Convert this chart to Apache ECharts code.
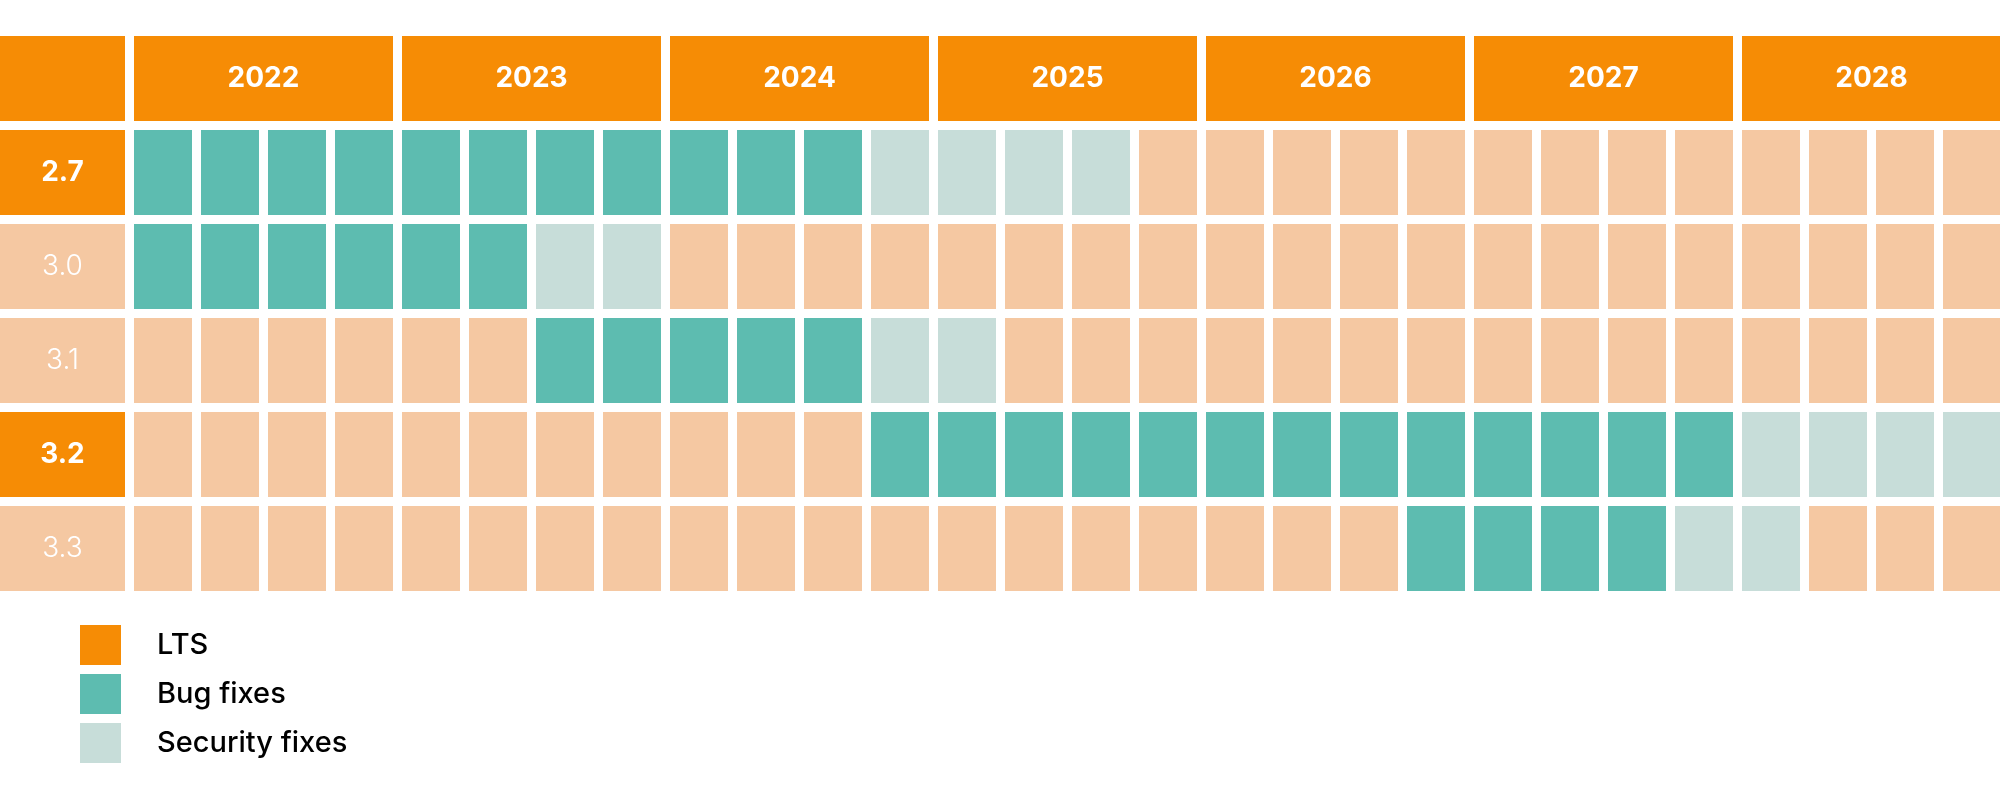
<!DOCTYPE html>
<html>
<head>
<meta charset="utf-8">
<script src="https://cdn.jsdelivr.net/npm/echarts@6/dist/echarts.min.js"></script>
<style>
html, body { margin: 0; padding: 0; background: #fff; }
#main { width: 2000px; height: 800px; }
</style>
</head>
<body>
<div id="main"></div>
<script>
// release years, each split in four quarters
var years = ['2022', '2023', '2024', '2025', '2026', '2027', '2028'];
var versions = ['2.7', '3.0', '3.1', '3.2', '3.3'];
var ltsVersions = ['2.7', '3.2'];

// support windows per version (quarter labels)
var bugStart = ['2022 Q1', '2022 Q1', '2023 Q3', '2024 Q4', '2026 Q4'];
var bugEnd = ['2024 Q3', '2023 Q2', '2024 Q3', '2027 Q4', '2027 Q3'];
var securityEnd = ['2025 Q3', '2023 Q4', '2025 Q1', '2028 Q4', '2028 Q1'];

var ORANGE = '#F68C05';
var TEAL = '#5DBCB0';
var LIGHT = '#C7DDD9';
var PEACH = '#F5C8A2';
var GAP = 9;
var FONT = 'Inter, "Noto Sans", sans-serif';

var quarters = [];
years.forEach(function (y) {
	['Q1', 'Q2', 'Q3', 'Q4'].forEach(function (q) { quarters.push(y + ' ' + q); });
});

// rows: 0 is the year header, versions follow
var rows = [''].concat(versions);

var bugData = [], securityData = [], otherData = [];
versions.forEach(function (v, i) {
	var b0 = quarters.indexOf(bugStart[i]);
	var b1 = quarters.indexOf(bugEnd[i]);
	var s1 = quarters.indexOf(securityEnd[i]);
	for (var q = 0; q < quarters.length; q++) {
		if (q >= b0 && q <= b1) bugData.push([q, i + 1]);
		else if (q > b1 && q <= s1) securityData.push([q, i + 1]);
		else otherData.push([q, i + 1]);
	}
});

var headerData = years.map(function (y, i) { return [i * 4, 0, y]; });

function cellItem(params, api) {
	var c = api.coord([api.value(0), api.value(1)]);
	var s = api.size([1, 1]);
	return {
		type: 'rect',
		shape: {
			x: c[0] - s[0] / 2 + GAP / 2,
			y: c[1] - s[1] / 2 + GAP / 2,
			width: s[0] - GAP,
			height: s[1] - GAP
		},
		style: api.style()
	};
}

function headerItem(params, api) {
	var c = api.coord([api.value(0), api.value(1)]);
	var s = api.size([1, 1]);
	return {
		type: 'rect',
		shape: {
			x: c[0] - s[0] / 2 + GAP / 2,
			y: c[1] - s[1] / 2 + GAP / 2,
			width: s[0] * 4 - GAP,
			height: s[1] - GAP
		},
		style: { fill: ORANGE },
		textContent: {
			style: {
				text: years[params.dataIndex],
				fill: '#fff',
				fontSize: 28,
				fontWeight: 'bold',
				fontFamily: FONT,
				padding: [5, 0, 0, 0]
			}
		},
		textConfig: { position: 'inside' }
	};
}

var dom = document.getElementById('main');
var myChart = echarts.init(dom);

var option = {
	animation: false,
	grid: {
		left: 129.5,
		top: 31.5,
		width: 1876,
		height: 564,
		outerBoundsMode: 'none'
	},
	legend: {
		orient: 'vertical',
		left: 80,
		top: 625,
		padding: 0,
		itemWidth: 41,
		itemHeight: 40,
		itemGap: 9,
		icon: 'rect',
		selectedMode: false,
		data: ['LTS', 'Bug fixes', 'Security fixes'],
		textStyle: {
			color: '#000',
			fontSize: 29,
			fontWeight: 500,
			fontFamily: FONT,
			padding: [8, 0, 0, 31]
		}
	},
	xAxis: {
		type: 'category',
		data: quarters,
		show: false
	},
	yAxis: {
		type: 'category',
		data: rows,
		inverse: true,
		axisLine: { show: false },
		axisTick: { show: false },
		splitLine: { show: false },
		axisLabel: {
			margin: 4.5,
			formatter: function (v) {
				if (v === '') return '{corner| }';
				return ltsVersions.indexOf(v) >= 0 ? '{lts|' + v + '}' : '{std|' + v + '}';
			},
			rich: {
				corner: { width: 125, height: 85, backgroundColor: ORANGE },
				lts: {
					width: 125, height: 85, lineHeight: 85, align: 'center',
					backgroundColor: ORANGE, color: '#fff',
					fontSize: 28, fontWeight: 'bold', fontFamily: FONT
				},
				std: {
					width: 125, height: 85, lineHeight: 85, align: 'center',
					backgroundColor: PEACH, color: '#fff',
					fontSize: 28, fontWeight: 300, fontFamily: FONT
				}
			}
		}
	},
	series: [
		{
			name: 'LTS',
			type: 'custom',
			renderItem: headerItem,
			itemStyle: { color: ORANGE },
			data: headerData
		},
		{
			name: 'Bug fixes',
			type: 'custom',
			renderItem: cellItem,
			itemStyle: { color: TEAL },
			data: bugData
		},
		{
			name: 'Security fixes',
			type: 'custom',
			renderItem: cellItem,
			itemStyle: { color: LIGHT },
			data: securityData
		},
		{
			name: 'Unsupported',
			type: 'custom',
			renderItem: cellItem,
			itemStyle: { color: PEACH },
			data: otherData
		}
	]
};
myChart.setOption(option, true);
</script>
</body>
</html>
